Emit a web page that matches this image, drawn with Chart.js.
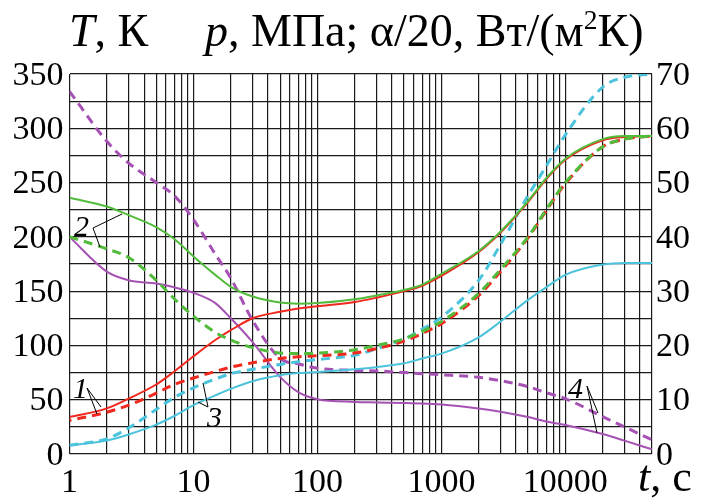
<!DOCTYPE html>
<html><head><meta charset="utf-8">
<script src="https://cdn.jsdelivr.net/npm/chart.js@4.4.1/dist/chart.umd.min.js"></script>
</head>
<body style="margin:0">
<div id="wrap" style="position:relative;width:701px;height:498px;overflow:hidden;font-family:'Liberation Serif';color:#000">
<canvas id="c" width="701" height="498"></canvas>
</div>
<script>
// ---- data, left-axis units (T, K); right axis = left/5
const times = [1,2,3,5,7,10,15,20,30,50,70,100,200,300,500,700,1000,2000,3000,5000,7000,10000,20000,30000,50000];
const redSolid    = [34,42,51,64,76,90,105,114,125,131,134,136,140,144,150,155,164,186,204,232,253,271,289,292,293];
const redDashed   = [31,38.5,45,56,64,70,76,80,84,88,89.5,90.5,93,97,104,111,120,146,168,199,224,249,283,290,293];
const greenSolid  = [236,228,220,209,198,182,165,154,145,139.5,138.5,139,142.5,146,151,156,166,187,205,233,254,272,290,293,293];
const greenDashed = [200,189,181,160,143,127,112,105,98,93,92.5,93,96,100,106,113,122,148,170,200,225,250,283,290,293];
const cyanSolid   = [8,12.5,18,27,35,45,54,60,67,72.5,74.5,75.5,78,80,83.5,88,92.5,107.5,122,142,153.5,165,174.5,176,176];
const cyanDashed  = [8,14,24,41,52,61,69,74,78,82.5,85,87,91,97,106,115,126,160,193,238,265,294,338,347,350];
const purpleSolid = [200,168,160,157,153.5,148.5,139,125,103,71,57,50.5,48,47.5,47,46.5,45.5,42,39,34,30,26.7,18.4,12.3,4.3];
const purpleDashed= [334,288,268,250,238,216,184,162,123,88,83,79,77,76.5,75,74,73,70.6,67.5,62,56.5,51,34.4,25,13];

const xGridValues = [1,2,3,4,5,6,7,8,9,10,20,30,40,50,60,70,80,90,100,200,300,400,500,600,700,800,900,
  1000,2000,3000,4000,5000,6000,7000,8000,9000,10000,20000,30000,40000,50000];
const xLabelValues = [1,10,100,1000,10000];
const leftLabels  = [0,50,100,150,200,250,300,350];
const rightLabels = [0,10,20,30,40,50,60,70];

const RED='#f0281e', GREEN='#52bb3c', CYAN='#4cc3dc', PURPLE='#a651b4';

function pts(arr){ return times.map((t,i)=>({x:t,y:arr[i]})); }
function ds(arr,color,dashed,extra){
  return Object.assign({
    data: pts(arr), borderColor: color, backgroundColor: color,
    borderWidth: dashed ? 3 : 2, borderDash: dashed ? [9,6] : [],
    pointRadius: 0, cubicInterpolationMode: 'monotone', fill: false, yAxisID: 'y'
  }, extra||{});
}

// leader lines for the curve numbers
const leaderPlugin = {
  id: 'leaders',
  afterDraw(chart){
    const c = chart.ctx;
    c.save();
    c.strokeStyle = '#000'; c.lineWidth = 1;
    const L = (a,b,d,e)=>{c.beginPath();c.moveTo(a,b);c.lineTo(d,e);c.stroke();};
    L(87,388,101,407); L(87,388,97,414);
    L(93,228,122,214); L(93,228,100,247);
    L(208,407,203,383); L(208,407,198,402);
    L(587,386,598,413); L(587,386,597,433);
    c.restore();
  }
};

const chart = new Chart(document.getElementById('c'), {
  type: 'line',
  data: {
    datasets: [
      ds(greenSolid, GREEN, false),
      ds(greenDashed, GREEN, true),
      ds(redSolid, RED, false),
      ds(redDashed, RED, true, {borderDashOffset: 7}),
      ds(cyanSolid, CYAN, false),
      ds(cyanDashed, CYAN, true),
      ds(purpleSolid, PURPLE, false),
      ds(purpleDashed, PURPLE, true)
    ]
  },
  options: {
    responsive: false,
    devicePixelRatio: 1,
    animation: false,
    layout: { padding: { top: 74, left: 0, right: 0, bottom: 0 } },
    plugins: { legend: {display:false}, tooltip: {enabled:false}, title: {display:false} },
    scales: {
      x: {
        type: 'logarithmic', min: 1, max: 50000,
        afterBuildTicks(scale){ scale.ticks = xGridValues.map(v=>({value:v, major: xLabelValues.includes(v)})); },
        afterFit(scale){ scale.height = 44; },
        grid: { color: '#1a1a1a', lineWidth: 1.2, drawTicks: false },
        border: { display: false },
        ticks: { display: false, autoSkip: false }
      },
      y: {
        position: 'left', min: 0, max: 350,
        afterFit(scale){ scale.width = 69.5; },
        grid: { color: '#1a1a1a', lineWidth: 1.2, drawTicks: false },
        border: { display: false },
        ticks: { display: false, stepSize: 25 }
      },
      y2: {
        position: 'right', min: 0, max: 70,
        afterFit(scale){ scale.width = 49; },
        grid: { display: false, drawTicks: false },
        border: { display: false },
        ticks: { display: false, stepSize: 10 }
      }
    }
  },
  plugins: [leaderPlugin]
});

// ---- text as HTML, positioned from the chart's own scales
const wrap = document.getElementById('wrap');
function place(html, x, yBase, size, align, italic){
  const s = document.createElement('span');
  s.innerHTML = html;
  s.style.position = 'absolute';
  s.style.whiteSpace = 'nowrap';
  s.style.fontFamily = "'Liberation Serif'";
  s.style.fontSize = size + 'px';
  s.style.lineHeight = size + 'px';
  s.style.top = (yBase - 0.8375*size) + 'px';
  if (italic) s.style.fontStyle = 'italic';
  if (align === 'right') s.style.right = (701 - x) + 'px';
  else if (align === 'center') { s.style.left = x + 'px'; s.style.transform = 'translateX(-50%)'; }
  else s.style.left = x + 'px';
  wrap.appendChild(s);
}
const sx = chart.scales.x, sy = chart.scales.y, sy2 = chart.scales.y2;
leftLabels.forEach(v => place(String(v), sx.left - 6, sy.getPixelForValue(v) + 0.33*34, 34, 'right'));
rightLabels.forEach(v => place(String(v), sx.right + 4, sy2.getPixelForValue(v) + 0.33*34, 34, 'left'));
xLabelValues.forEach(v => place(String(v), sx.getPixelForValue(v), 492, 34, 'center'));

place('<i>T</i>, К', 69, 47, 46, 'left');
place('<i>p</i>, МПа; α/20, Вт/(м<span style="font-size:0.6em;position:relative;top:-0.62em">2</span>К)', 205, 47, 46, 'left');
place('<i>t</i>, с', 638, 492, 44, 'left');

place('1', 73, 398, 30, 'left', true);
place('2', 74, 236, 30, 'left', true);
place('3', 207, 427, 30, 'left', true);
place('4', 568, 398, 30, 'left', true);
</script>
</body></html>
